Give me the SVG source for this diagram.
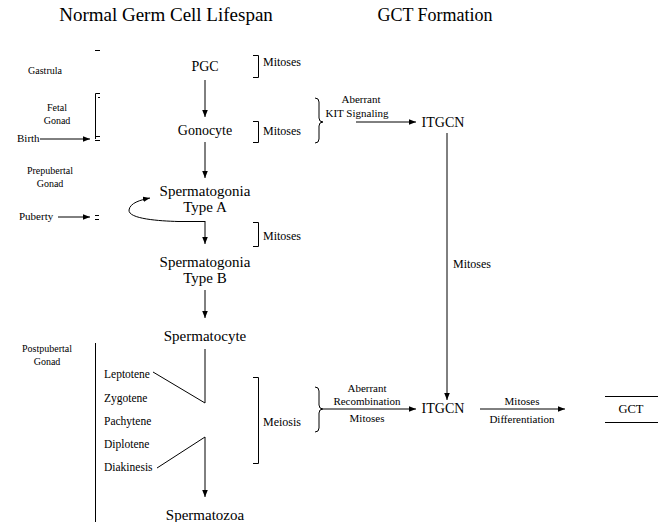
<svg xmlns="http://www.w3.org/2000/svg" width="658" height="522" viewBox="0 0 658 522">
<defs>
<marker id="ah" viewBox="0 0 10 10" refX="10" refY="5" markerWidth="7" markerHeight="7" markerUnits="userSpaceOnUse" orient="auto">
<path d="M0,1 L10,5 L0,9 Z" fill="#000"/>
</marker>
<style>
text{font-family:"Liberation Serif","Times New Roman",serif;fill:#000}
.t{font-size:19px;text-anchor:middle}
.n{font-size:14px;text-anchor:middle}
.b{font-size:15px;text-anchor:middle}
.s{font-size:10px}
.sc{font-size:10px;text-anchor:middle}
.m{font-size:12px}
.st{font-size:11.5px}
.a{font-size:11px;text-anchor:middle}
.ln{fill:none;stroke:#000;stroke-width:1}
.ar{fill:none;stroke:#000;stroke-width:1;marker-end:url(#ah)}
</style>
</defs>
<rect width="658" height="522" fill="#fff"/>
<g id="titles">
<text class="t" x="166" y="21">Normal Germ Cell Lifespan</text>
<text class="t" x="435" y="21" style="font-size:18px">GCT Formation</text>
</g>
<g id="timeline">
<line class="ln" x1="95" y1="50.5" x2="100" y2="50.5"/>
<text class="sc" x="45" y="74">Gastrula</text>
<path class="ln" d="M100,93.5 H95.5 V139"/>
<line class="ln" x1="98" y1="97.5" x2="100" y2="97.5"/>
<line class="ln" x1="95" y1="136.5" x2="100" y2="136.5"/>
<line class="ln" x1="95" y1="140.5" x2="100" y2="140.5"/>
<text class="sc" x="57" y="111">Fetal</text>
<text class="sc" x="57" y="124">Gonad</text>
<text class="s" x="17" y="142" style="font-size:11px">Birth</text>
<text class="sc" x="50" y="174">Prepubertal</text>
<text class="sc" x="50" y="187">Gonad</text>
<text class="s" x="19" y="220" style="font-size:11px">Puberty</text>
<line class="ln" x1="95" y1="215.5" x2="99" y2="215.5"/>
<line class="ln" x1="95" y1="219.5" x2="99" y2="219.5"/>
<text class="sc" x="47" y="352">Postpubertal</text>
<text class="sc" x="47" y="365">Gonad</text>
<line class="ln" x1="95.5" y1="343" x2="95.5" y2="522"/>
</g>
<g id="pgc"><text class="n" x="205" y="71">PGC</text></g>
<g id="gonocyte"><text class="n" x="205" y="135">Gonocyte</text></g>
<g id="spgA"><text class="b" x="205" y="196">Spermatogonia</text><text class="b" x="205" y="212">Type A</text></g>
<g id="spgB"><text class="b" x="205" y="267">Spermatogonia</text><text class="b" x="205" y="283">Type B</text></g>
<g id="spermatocyte"><text class="b" x="205" y="341">Spermatocyte</text></g>
<g id="stages">
<text class="st" x="104" y="378">Leptotene</text>
<text class="st" x="104" y="402">Zygotene</text>
<text class="st" x="104" y="425">Pachytene</text>
<text class="st" x="104" y="448">Diplotene</text>
<text class="st" x="104" y="471">Diakinesis</text>
</g>
<g id="spermatozoa"><text class="b" x="205" y="520">Spermatozoa</text></g>
<g id="mitoses-labels">
<path class="ln" d="M253,55.5 H258.5 V77.5 H253"/>
<text class="m" x="263" y="66">Mitoses</text>
<path class="ln" d="M253,121.5 H258.5 V142.5 H253"/>
<text class="m" x="263" y="135">Mitoses</text>
<path class="ln" d="M253,222.5 H258.5 V246.5 H253"/>
<text class="m" x="263" y="240">Mitoses</text>
<path class="ln" d="M253,377.5 H258.5 V463.5 H253"/>
<text class="m" x="263" y="426">Meiosis</text>
</g>
<g id="itgcn1"><text class="n" x="443" y="127">ITGCN</text></g>
<g id="itgcn2"><text class="n" x="443" y="413">ITGCN</text></g>
<g id="gct">
<line class="ln" x1="605" y1="396.5" x2="658" y2="396.5"/>
<line class="ln" x1="605" y1="422.5" x2="658" y2="422.5"/>
<text class="n" x="631" y="413" style="font-size:12.5px">GCT</text>
</g>
<g id="connectors">
<line class="ar" x1="40" y1="139" x2="90" y2="139"/>
<line class="ar" x1="58" y1="217" x2="90" y2="217"/>
<line class="ar" x1="205" y1="80" x2="205" y2="117"/>
<line class="ar" x1="205" y1="142" x2="205" y2="178"/>
<path class="ln" d="M178,221.5 H205"/>
<line class="ar" x1="205" y1="221" x2="205" y2="244"/>
<path class="ar" d="M178,221.5 C160,221 128,219 129,210 C130,203 140,200 150,198"/>
<line class="ar" x1="205" y1="290" x2="205" y2="318"/>
<path class="ln" d="M153,372 L205,403 V349"/>
<path class="ln" d="M157,468 L205,437"/>
<line class="ar" x1="205" y1="437" x2="205" y2="497"/>
<path class="ln" d="M315,98 Q319,98 319,102 V118 Q319,122 323,122 Q319,122 319,126 V139 Q319,143 315,143"/>
<text class="a" x="361" y="103">Aberrant</text>
<text class="a" x="357" y="117">KIT Signaling</text>
<line class="ar" x1="356" y1="122" x2="416" y2="122"/>
<line class="ar" x1="447" y1="133" x2="447" y2="400"/>
<text class="m" x="453" y="268">Mitoses</text>
<path class="ln" d="M315,387 Q319,387 319,391 V405 Q319,409 323,409 Q319,409 319,413 V428 Q319,432 315,432"/>
<line class="ar" x1="323" y1="409" x2="416" y2="409"/>
<text class="a" x="367" y="392">Aberrant</text>
<text class="a" x="367" y="405">Recombination</text>
<text class="a" x="367" y="422">Mitoses</text>
<line class="ar" x1="480" y1="409" x2="565" y2="409"/>
<text class="a" x="522" y="405">Mitoses</text>
<text class="a" x="522" y="423">Differentiation</text>
</g>
</svg>
